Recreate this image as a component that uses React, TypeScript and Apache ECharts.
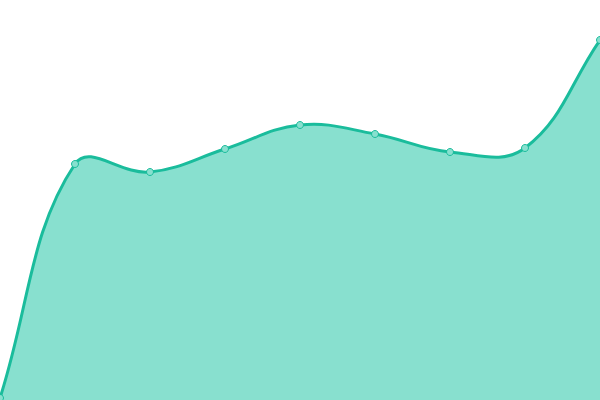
import React, { useEffect, useRef } from "react";
import * as echarts from "echarts";
import type { EChartsOption } from "echarts";

const categories = ["1", "2", "3", "4", "5", "6", "7", "8", "9"];
const values = [0.5, 59, 57, 62.75, 68.75, 66.5, 62, 63, 90];

const LINE = "#1abc9c";
const FILL = "#88e0cf";
const TENSION = 0.4;

// spline through the points (cardinal style, like the reference)
function splinePath(pts: number[][], top: number, bottom: number): string {
  const n = pts.length;
  const cps: number[][] = [];
  for (let i = 0; i < n; i++) {
    const prev = pts[Math.max(i - 1, 0)];
    const cur = pts[i];
    const next = pts[Math.min(i + 1, n - 1)];
    const d01 = Math.hypot(cur[0] - prev[0], cur[1] - prev[1]);
    const d12 = Math.hypot(next[0] - cur[0], next[1] - cur[1]);
    let s01 = d01 / (d01 + d12);
    let s12 = d12 / (d01 + d12);
    if (isNaN(s01)) s01 = 0;
    if (isNaN(s12)) s12 = 0;
    const fa = TENSION * s01;
    const fb = TENSION * s12;
    const clamp = (y: number) => Math.min(Math.max(y, top), bottom);
    cps.push([
      cur[0] - fa * (next[0] - prev[0]),
      clamp(cur[1] - fa * (next[1] - prev[1])),
      cur[0] + fb * (next[0] - prev[0]),
      clamp(cur[1] + fb * (next[1] - prev[1])),
    ]);
  }
  let d = `M${pts[0][0]},${pts[0][1]}`;
  for (let i = 1; i < n; i++) {
    const a = cps[i - 1];
    const b = cps[i];
    d += ` C${a[2]},${a[3]} ${b[0]},${b[1]} ${pts[i][0]},${pts[i][1]}`;
  }
  return d;
}

const App: React.FC = () => {
  const chartRef = useRef<HTMLDivElement | null>(null);

  useEffect(() => {
    document.body.style.margin = "0";
    if (chartRef.current) {
      const myChart = echarts.init(chartRef.current, undefined, { renderer: "svg" });

      const option: EChartsOption = {
        animation: false,
        grid: { left: 0, right: 0, top: 0, bottom: 0 },
        xAxis: {
          type: "category",
          boundaryGap: false,
          data: categories,
          show: false,
        },
        yAxis: {
          type: "value",
          min: 0,
          max: 100,
          show: false,
        },
        series: [
          {
            type: "custom",
            coordinateSystem: "cartesian2d",
            encode: { x: 0, y: 1 },
            data: values.map((v, i) => [i, v]),
            renderItem: (params: any, api: any) => {
              if (params.dataIndex !== 0) return null;
              const pts = values.map((v, i) => api.coord([i, v]));
              const base = api.coord([0, 0])[1];
              const top = api.coord([0, 100])[1];
              const line = splinePath(pts, top, base);
              const last = pts[pts.length - 1];
              const area = `${line} L${last[0]},${base} L${pts[0][0]},${base} Z`;
              return {
                type: "group",
                children: [
                  { type: "path", shape: { pathData: area }, style: { fill: FILL } },
                  {
                    type: "path",
                    shape: { pathData: line },
                    style: { fill: "none", stroke: LINE, lineWidth: 3 },
                  },
                ],
              };
            },
            z: 1,
          },
          {
            type: "scatter",
            symbol: "circle",
            symbolSize: 7,
            itemStyle: { color: FILL, borderColor: LINE, borderWidth: 1, opacity: 1 },
            data: values.map((v, i) => [i, v]),
            z: 2,
          },
        ],
      };

      myChart.setOption(option);

      return () => {
        myChart.dispose();
      };
    }
  }, []);

  return <div ref={chartRef} style={{ width: "600px", height: "400px" }} />;
};

export default App;
